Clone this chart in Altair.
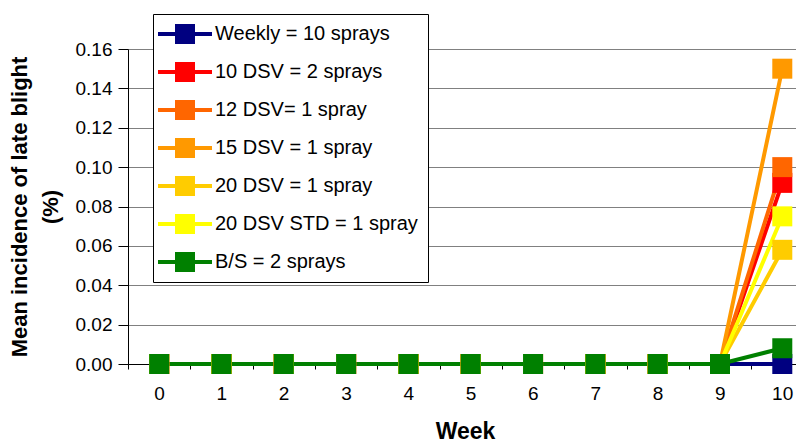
import altair as alt
import pandas as pd

weeks = [0, 1, 2, 3, 4, 5, 6, 7, 8, 9, 10]
series = [
    "Weekly = 10 sprays",
    "10 DSV = 2 sprays",
    "12 DSV= 1 spray",
    "15 DSV = 1 spray",
    "20 DSV = 1 spray",
    "20 DSV STD = 1 spray",
    "B/S = 2 sprays",
]
colors = ["#000080", "#FF0000", "#FF6600", "#FF9900", "#FFCC00", "#FFFF00", "#008000"]

weekly = [0, 0, 0, 0, 0, 0, 0, 0, 0, 0, 0.0]
dsv10 = [0, 0, 0, 0, 0, 0, 0, 0, 0, 0, 0.092]
dsv12 = [0, 0, 0, 0, 0, 0, 0, 0, 0, 0, 0.100]
dsv15 = [0, 0, 0, 0, 0, 0, 0, 0, 0, 0, 0.150]
dsv20 = [0, 0, 0, 0, 0, 0, 0, 0, 0, 0, 0.058]
dsv20std = [0, 0, 0, 0, 0, 0, 0, 0, 0, 0, 0.075]
bs = [0, 0, 0, 0, 0, 0, 0, 0, 0, 0, 0.008]

values = [weekly, dsv10, dsv12, dsv15, dsv20, dsv20std, bs]
y_ticks = [0.0, 0.02, 0.04, 0.06, 0.08, 0.10, 0.12, 0.14, 0.16]
x_ticks = [-0.5, 0.5, 1.5, 2.5, 3.5, 4.5, 5.5, 6.5, 7.5, 8.5, 9.5]

rows = []
for i, (name, vals) in enumerate(zip(series, values)):
    for w, v in zip(weeks, vals):
        rows.append({"Week": w, "value": v, "series": name, "line_series": name, "order": i})
df = pd.DataFrame(rows)

FONT = "Liberation Sans"

x_enc = alt.X(
    "Week:Q",
    scale=alt.Scale(domain=[-0.5, 10.22], nice=False, zero=False),
    axis=alt.Axis(
        values=x_ticks,
        tickCount=20,
        labelExpr="format(datum.value + 0.5, 'd')",
        labelOffset=31,
        labelFlush=False,
        labelOverlap=False,
        labelBound=False,
        grid=False,
        tickSize=5,
        tickColor="black",
        domainColor="black",
        labelFont=FONT,
        labelFontSize=19,
        labelColor="black",
        labelPadding=15,
        title="Week",
        titleFont=FONT,
        titleFontSize=23,
        titleFontWeight="bold",
        titleColor="black",
        titlePadding=17,
        titleX=337,
    ),
)
y_enc = alt.Y(
    "value:Q",
    scale=alt.Scale(domain=[0, 0.16], nice=False),
    axis=alt.Axis(
        values=y_ticks,
        tickCount=20,
        format=".2f",
        grid=True,
        gridColor="#808080",
        gridWidth=1,
        tickSize=10,
        tickColor="black",
        domainColor="black",
        labelFont=FONT,
        labelFontSize=19,
        labelColor="black",
        labelPadding=6,
        labelOverlap=False,
        labelFlush=False,
        title=["Mean incidence of late blight", "(%)"],
        titleFont=FONT,
        titleFontSize=22,
        titleFontWeight="bold",
        titleColor="black",
        titleLineHeight=31,
        titlePadding=13,
    ),
)

lines = alt.Chart(df).mark_line(strokeWidth=4).encode(
    x=x_enc,
    y=y_enc,
    stroke=alt.Stroke("line_series:N", scale=alt.Scale(domain=series, range=colors), legend=None),
    detail="line_series:N",
    order="Week:Q",
)

points = alt.Chart(df).mark_point(shape="square", filled=True, size=400, opacity=1).encode(
    x=x_enc,
    y=y_enc,
    color=alt.Color(
        "series:N",
        scale=alt.Scale(domain=series, range=colors),
        legend=alt.Legend(
            title=None,
            orient="none",
            legendX=25,
            legendY=-35,
            direction="vertical",
            fillColor="white",
            strokeColor="black",
            padding=10,
            rowPadding=18,
            symbolType="M-1.5,-0.2H3.9V0.2H-1.5Z M0.2,-1H2.2V1H0.2Z",
            symbolSize=400,
            symbolStrokeWidth=0,
            symbolOpacity=1,
            labelOffset=32,
            labelFont=FONT,
            labelFontSize=20,
            labelColor="black",
            labelLimit=400,
        ),
    ),
    order="order:Q",
)

chart = (
    alt.layer(lines, points)
    .resolve_legend(color="independent", stroke="independent")
    .properties(
        width=668,
        height=315,
        autosize=alt.AutoSizeParams(type="none"),
        padding={"left": 120, "top": 41, "right": 0, "bottom": 80},
    )
    .configure_view(stroke="black", strokeWidth=1)
    .configure(background="white")
)

chart.save("out.html", embed_options={"renderer": "svg", "actions": False})
